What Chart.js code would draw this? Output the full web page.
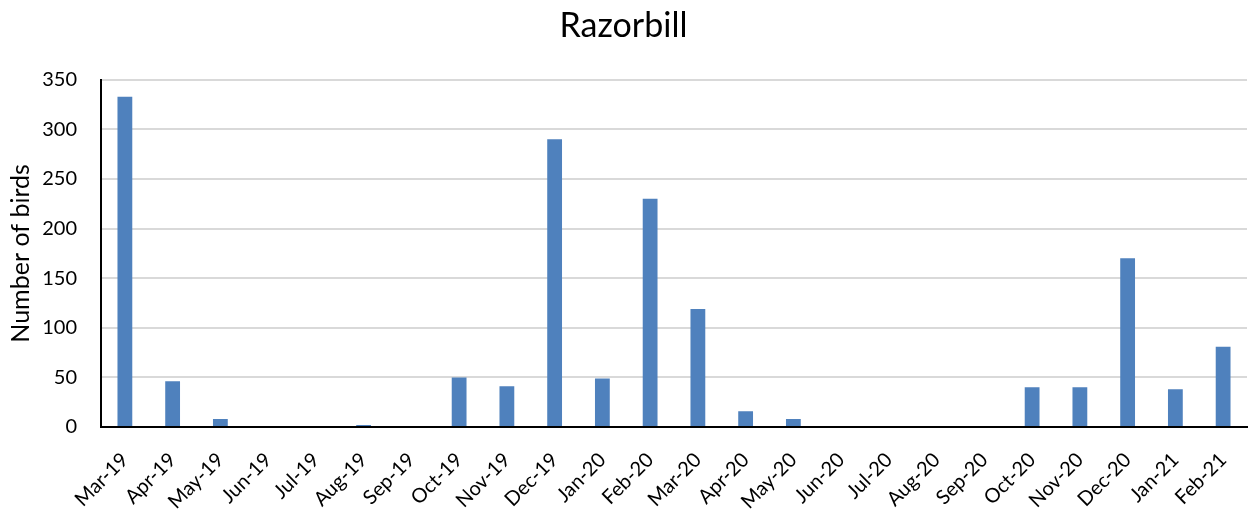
<!DOCTYPE html>
<html>
<head>
<meta charset="utf-8">
<title>Razorbill</title>
<script src="https://cdn.jsdelivr.net/npm/chart.js@4/dist/chart.umd.min.js"></script>
<style>
  html, body { margin: 0; padding: 0; background: #ffffff; }
  #wrap { width: 1250px; height: 511px; position: relative; }
</style>
</head>
<body>
<div id="wrap"><canvas id="birdChart"></canvas></div>
<script>
// Monthly razorbill counts
const months = ['Mar-19', 'Apr-19', 'May-19', 'Jun-19', 'Jul-19', 'Aug-19', 'Sep-19', 'Oct-19',
    'Nov-19', 'Dec-19', 'Jan-20', 'Feb-20', 'Mar-20', 'Apr-20', 'May-20', 'Jun-20', 'Jul-20',
    'Aug-20', 'Sep-20', 'Oct-20', 'Nov-20', 'Dec-20', 'Jan-21', 'Feb-21'];
const birdCounts = [333, 46, 8, 0, 0, 2, 0, 50, 41, 290, 49, 230, 119, 16, 8, 0, 0, 0, 0, 40, 40, 170, 38, 81];
const yMax = 350;
const yStep = 50;

const FONT = 'Lato, "DejaVu Sans", sans-serif';

function initChart() {
    const ctx = document.getElementById('birdChart').getContext('2d');
    new Chart(ctx, {
        type: 'bar',
        data: {
            labels: months,
            datasets: [{
                label: 'Razorbill',
                data: birdCounts,
                backgroundColor: '#4f81bd',
                borderWidth: 0,
                categoryPercentage: 1,
                barPercentage: 0.31
            }]
        },
        options: {
            responsive: true,
            maintainAspectRatio: false,
            animation: false,
            layout: { padding: { left: 0, right: 3, top: 6, bottom: 0 } },
            plugins: {
                legend: { display: false },
                tooltip: { enabled: false },
                title: {
                    display: true,
                    text: 'Razorbill',
                    color: '#000000',
                    font: { family: FONT, size: 34, weight: 'normal' },
                    padding: { top: 0, bottom: 33 }
                }
            },
            scales: {
                x: {
                    grid: { display: false, drawTicks: true, tickLength: 4 },
                    border: { color: '#000000', width: 2 },
                    ticks: {
                        color: '#000000',
                        font: { family: FONT, size: 20 },
                        minRotation: 45,
                        maxRotation: 45,
                        autoSkip: false,
                        padding: 17
                    },
                    afterFit: (scale) => {
                        // fixed axis band, no extra side padding for the rotated labels
                        scale.height = 84;
                        scale.paddingRight = 0;
                    }
                },
                y: {
                    min: 0,
                    max: yMax,
                    ticks: {
                        stepSize: yStep,
                        color: '#000000',
                        font: { family: FONT, size: 20 },
                        padding: 16
                    },
                    grid: { color: '#d9d9d9', lineWidth: 2, tickLength: 8, tickColor: 'transparent' },
                    border: { color: '#000000', width: 2 },
                    title: {
                        display: true,
                        text: 'Number of birds',
                        color: '#000000',
                        font: { family: FONT, size: 25 },
                        padding: { top: 6, bottom: 0 }
                    },
                    afterFit: (scale) => { scale.width = 101; }
                }
            }
        }
    });
}

document.addEventListener('DOMContentLoaded', () => {
    initChart();
});
</script>
</body>
</html>
